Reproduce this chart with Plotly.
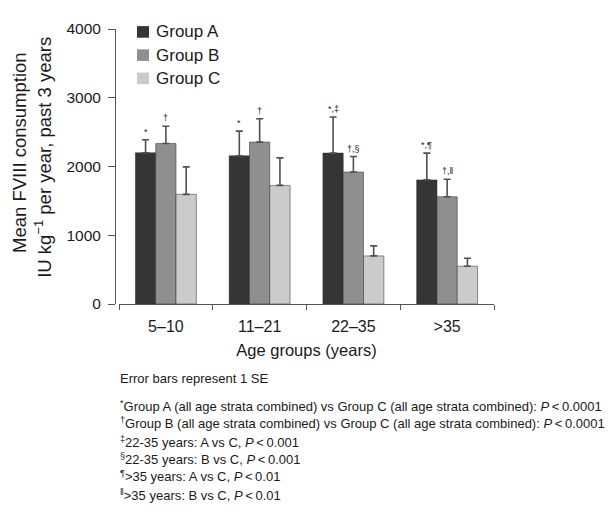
import plotly.graph_objects as go

categories = ["5–10", "11–21", "22–35", ">35"]
group_names = ["Group A", "Group B", "Group C"]
group_a = [2200, 2155, 2195, 1805]
group_a_se = [190, 360, 525, 390]
group_b = [2335, 2355, 1920, 1560]
group_b_se = [250, 340, 225, 255]
group_c = [1595, 1725, 700, 550]
group_c_se = [400, 400, 145, 115]
labels_a = ["*", "*", "*,‡", "*,¶"]
labels_b = ["†", "†", "†,§", "†,‖"]
y_ticks = [0, 1000, 2000, 3000, 4000]
y_title_lines = ["Mean FVIII consumption", "IU kg<sup>−1</sup> per year, past 3 years"]
footnotes = [
    "Error bars represent 1 SE",
    "<sup>*</sup>Group A (all age strata combined) vs Group C (all age strata combined): <i>P</i>\u2009<\u20090.0001",
    "<sup>†</sup>Group B (all age strata combined) vs Group C (all age strata combined): <i>P</i>\u2009<\u20090.0001",
    "<sup>‡</sup>22-35 years: A vs C, <i>P</i>\u2009<\u20090.001",
    "<sup>§</sup>22-35 years: B vs C, <i>P</i>\u2009<\u20090.001",
    "<sup>¶</sup>>35 years: A vs C, <i>P</i>\u2009<\u20090.01",
    "<sup>‖</sup>>35 years: B vs C, <i>P</i>\u2009<\u20090.01",
]
footnote_y_px = [381, 409, 427, 446, 464, 482, 501]
legend_y_px = [23, 47, 71]
y_title_x_px = [20, 43]
y_title_y_px = [148, 153]

FONT = "Liberation Sans, Arial, Helvetica, sans-serif"
colors = ["#353535", "#8f8f8f", "#cbcbcb"]
err_color = "#505050"
TXT = "#1a1a1a"

# page body has an 8px margin; figure coordinates are offset accordingly
OFF = 8
W, H = 614 - OFF, 518 - OFF
L, R, T, B = 115 - OFF, 614 - 494, 20 - OFF, 518 - 304
PW, PH = W - L - R, H - T - B


def px_x(px):
    return (px - OFF - L) / PW


def px_y(py):
    return (H - B - (py - OFF)) / PH


fig = go.Figure()
series = [(group_a, group_a_se), (group_b, group_b_se), (group_c, group_c_se)]
for i, (vals, se) in enumerate(series):
    fig.add_trace(go.Bar(
        x=categories, y=vals, name=group_names[i],
        marker=dict(color=colors[i], line=dict(color="#2a2a2a", width=0.5)),
        error_y=dict(type="data", array=se, arrayminus=[0] * len(se), symmetric=False,
                     color=err_color, thickness=1.6, width=3.5),
        showlegend=False,
    ))

bargap = 0.35
bw = (1 - bargap) / 3
annotations = []
for offset, vals, se, labs in [(-bw, group_a, group_a_se, labels_a), (0, group_b, group_b_se, labels_b)]:
    for j in range(len(categories)):
        annotations.append(dict(
            x=j + offset, y=vals[j] + se[j], xref="x", yref="y", text=labs[j],
            showarrow=False, yanchor="bottom", yshift=1,
            font=dict(family=FONT, size=9, color="#222"),
        ))

# manual legend
shapes = []
for name, col, py in zip(group_names, colors, legend_y_px):
    shapes.append(dict(type="rect", xref="paper", yref="paper",
                       x0=px_x(137), x1=px_x(149), y0=px_y(py + 6), y1=px_y(py - 6),
                       fillcolor=col, line=dict(width=0)))
    annotations.append(dict(x=px_x(154), y=px_y(py), xref="paper", yref="paper", text=name,
                            showarrow=False, xanchor="left", yanchor="middle",
                            font=dict(family=FONT, size=17, color=TXT)))

# y axis title (two lines)
for line, xp, yp in zip(y_title_lines, y_title_x_px, y_title_y_px):
    annotations.append(dict(
        x=px_x(xp), y=px_y(yp), xref="paper", yref="paper", text=line,
        textangle=-90, showarrow=False, xanchor="center", yanchor="middle",
        font=dict(family=FONT, size=18.5, color=TXT),
    ))

for txt, py in zip(footnotes, footnote_y_px):
    annotations.append(dict(
        x=px_x(118), y=px_y(py), xref="paper", yref="paper", text=txt,
        showarrow=False, xanchor="left", yanchor="middle", align="left",
        font=dict(family=FONT, size=13, color=TXT),
    ))

fig.update_layout(
    width=W, height=H,
    margin=dict(l=L, r=R, t=T, b=B, pad=0),
    barmode="group", bargap=bargap, bargroupgap=0,
    plot_bgcolor="white", paper_bgcolor="white",
    font=dict(family=FONT, size=15, color=TXT),
    showlegend=False,
    xaxis=dict(domain=[4 / PW, 1], range=[-0.5, 3.5], showline=True, linecolor="#555", linewidth=1,
               ticks="outside", tickson="boundaries", ticklen=5, tickcolor="#555",
               ticklabelstandoff=8,
               tickfont=dict(family=FONT, size=16, color=TXT),
               title=dict(text="Age groups (years)", font=dict(family=FONT, size=16.5, color=TXT), standoff=10),
               showgrid=False, zeroline=False),
    yaxis=dict(range=[0, 4000], tickvals=y_ticks, anchor="free", position=0,
               showline=True, linecolor="#555", linewidth=1,
               ticks="outside", ticklen=7, tickcolor="#555", ticklabelstandoff=4,
               tickfont=dict(family=FONT, size=15.5, color=TXT),
               showgrid=False, zeroline=False),
    annotations=annotations,
    shapes=shapes,
)

fig.write_html("out.html")
